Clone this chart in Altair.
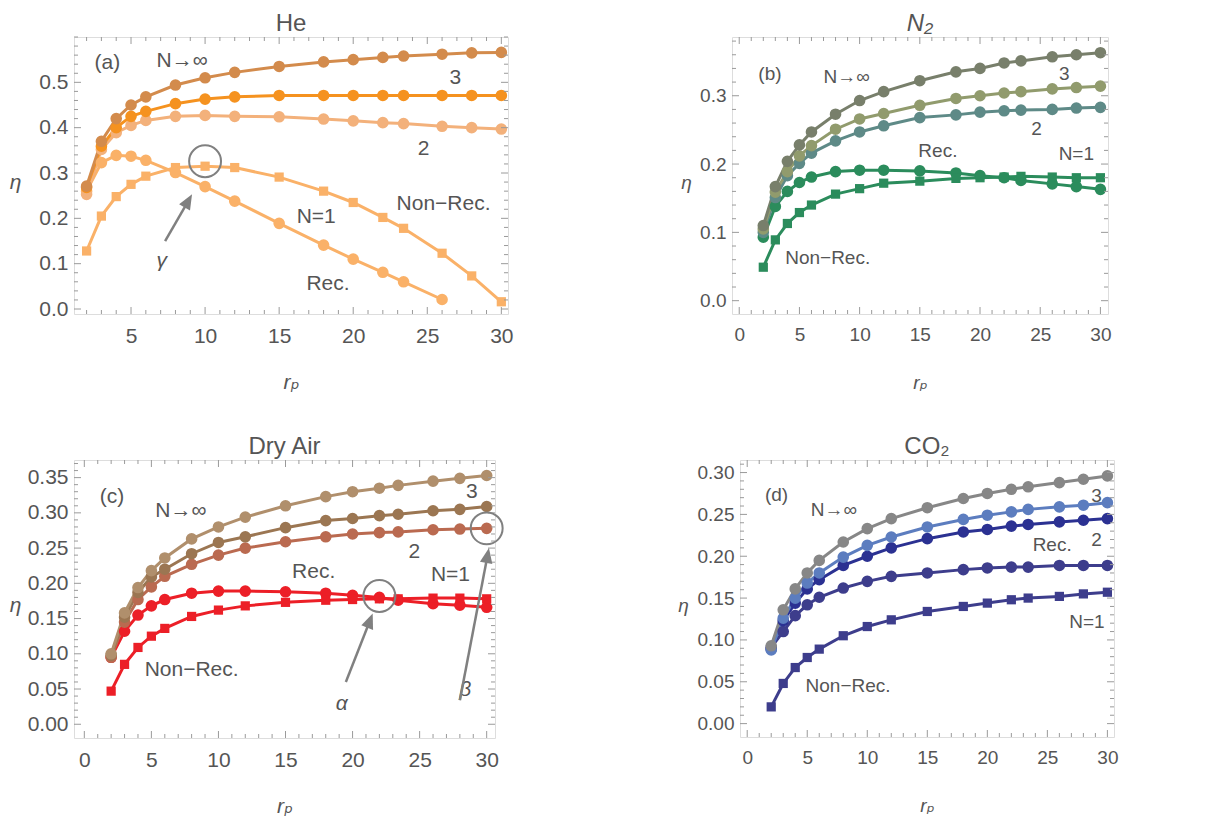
import math
import altair as alt
import pandas as pd

# ---------------- data ----------------
rp = [2, 3, 4, 5, 6, 8, 10, 12, 15, 18, 20, 22, 23.4, 26, 28, 30]
rp_he_rec = [2, 3, 4, 5, 6, 8, 10, 12, 15, 18, 20, 22, 23.4, 26]

# (a) He
he_inf = [0.271, 0.370, 0.420, 0.450, 0.468, 0.494, 0.510, 0.522, 0.535, 0.545, 0.550, 0.555, 0.558, 0.562, 0.565, 0.566]
he_n3 = [0.268, 0.359, 0.400, 0.425, 0.436, 0.453, 0.463, 0.468, 0.471, 0.471, 0.471, 0.471, 0.471, 0.471, 0.471, 0.471]
he_n2 = [0.253, 0.352, 0.389, 0.405, 0.416, 0.425, 0.427, 0.425, 0.424, 0.419, 0.415, 0.411, 0.409, 0.403, 0.400, 0.397]
he_rec = [0.260, 0.323, 0.339, 0.337, 0.328, 0.301, 0.270, 0.238, 0.189, 0.141, 0.110, 0.081, 0.060, 0.021]
he_nonrec = [0.128, 0.205, 0.248, 0.275, 0.293, 0.312, 0.315, 0.312, 0.291, 0.260, 0.235, 0.202, 0.178, 0.123, 0.073, 0.016]

# (b) N2
n2_inf = [0.110, 0.167, 0.204, 0.228, 0.247, 0.273, 0.293, 0.306, 0.322, 0.335, 0.340, 0.348, 0.351, 0.357, 0.360, 0.363]
n2_n3 = [0.105, 0.159, 0.189, 0.212, 0.227, 0.251, 0.266, 0.274, 0.286, 0.296, 0.300, 0.304, 0.306, 0.310, 0.312, 0.314]
n2_n2 = [0.100, 0.151, 0.183, 0.201, 0.216, 0.234, 0.247, 0.256, 0.268, 0.272, 0.276, 0.278, 0.279, 0.280, 0.282, 0.283]
n2_rec = [0.093, 0.138, 0.160, 0.173, 0.181, 0.189, 0.191, 0.191, 0.190, 0.187, 0.183, 0.180, 0.176, 0.171, 0.167, 0.163]
n2_nonrec = [0.049, 0.089, 0.113, 0.129, 0.140, 0.156, 0.164, 0.172, 0.175, 0.179, 0.180, 0.181, 0.182, 0.181, 0.180, 0.180]

# (c) Dry Air
air_inf = [0.100, 0.158, 0.194, 0.218, 0.236, 0.263, 0.280, 0.294, 0.310, 0.323, 0.330, 0.335, 0.339, 0.345, 0.349, 0.353]
air_n3 = [0.098, 0.152, 0.187, 0.209, 0.220, 0.242, 0.258, 0.266, 0.279, 0.289, 0.292, 0.296, 0.298, 0.303, 0.305, 0.309]
air_n2 = [0.095, 0.145, 0.177, 0.195, 0.210, 0.227, 0.240, 0.250, 0.259, 0.266, 0.270, 0.272, 0.273, 0.276, 0.277, 0.278]
air_rec = [0.095, 0.132, 0.155, 0.168, 0.177, 0.186, 0.189, 0.189, 0.188, 0.186, 0.183, 0.180, 0.176, 0.171, 0.169, 0.166]
air_nonrec = [0.047, 0.085, 0.109, 0.125, 0.136, 0.153, 0.162, 0.168, 0.173, 0.176, 0.177, 0.178, 0.178, 0.179, 0.179, 0.178]

# (d) CO2
co2_inf = [0.093, 0.136, 0.161, 0.180, 0.195, 0.217, 0.233, 0.245, 0.258, 0.269, 0.275, 0.280, 0.283, 0.288, 0.292, 0.296]
co2_n3 = [0.088, 0.126, 0.150, 0.168, 0.180, 0.199, 0.213, 0.223, 0.235, 0.244, 0.249, 0.253, 0.256, 0.259, 0.261, 0.264]
co2_n2 = [0.089, 0.123, 0.144, 0.161, 0.172, 0.189, 0.200, 0.210, 0.221, 0.229, 0.232, 0.236, 0.238, 0.241, 0.243, 0.245]
co2_rec = [0.091, 0.110, 0.129, 0.142, 0.151, 0.162, 0.170, 0.176, 0.180, 0.184, 0.186, 0.187, 0.187, 0.189, 0.189, 0.189]
co2_nonrec = [0.020, 0.048, 0.067, 0.079, 0.089, 0.105, 0.116, 0.124, 0.134, 0.140, 0.144, 0.148, 0.150, 0.152, 0.155, 0.157]

# tick labels
x_ticks_a = [5, 10, 15, 20, 25, 30]
x_ticks = [0, 5, 10, 15, 20, 25, 30]
y_ticks_a = [0.0, 0.1, 0.2, 0.3, 0.4, 0.5]
y_ticks_b = [0.0, 0.1, 0.2, 0.3]
y_ticks_c = [0.00, 0.05, 0.10, 0.15, 0.20, 0.25, 0.30, 0.35]
y_ticks_d = [0.00, 0.05, 0.10, 0.15, 0.20, 0.25, 0.30]

# annotation texts
lab_a_text = ["(a)", "N→∞", "3", "2", "Non−Rec.", "N=1", "Rec."]
lab_a_x = [3.4, 8.45, 26.9, 24.75, 26.1, 17.5, 18.3]
lab_a_y = [0.543, 0.546, 0.510, 0.353, 0.231, 0.202, 0.055]
lab_b_text = ["(b)", "N→∞", "3", "2", "Rec.", "N=1", "Non−Rec."]
lab_b_x = [2.55, 8.93, 27.0, 24.7, 16.5, 28.0, 7.35]
lab_b_y = [0.332, 0.327, 0.332, 0.251, 0.219, 0.215, 0.063]
lab_c_text = ["(c)", "N→∞", "3", "2", "Rec.", "N=1", "Non−Rec."]
lab_c_x = [2.06, 7.2, 28.9, 24.6, 17.1, 27.3, 8.0]
lab_c_y = [0.322, 0.303, 0.330, 0.245, 0.216, 0.212, 0.077]
lab_d_text = ["(d)", "N→∞", "3", "2", "Rec.", "N=1", "Non−Rec."]
lab_d_x = [2.44, 7.22, 29.1, 29.1, 25.4, 28.3, 8.4]
lab_d_y = [0.273, 0.255, 0.272, 0.219, 0.213, 0.122, 0.045]

# greek marker labels, circled points, arrows (start -> tip)
greek_a = [("γ", 7.07, 0.106)]
greek_c = [("α", 19.2, 0.029), ("β", 28.4, 0.048)]
circ_a = [(10, 0.326)]
circ_c = [(22, 0.182), (30, 0.278)]
arrows_a = [(7.3, 0.150, 9.12, 0.253)]
arrows_c = [(19.5, 0.060, 21.5, 0.157), (28.0, 0.034, 30.17, 0.250)]

# ---------------- style ----------------
FONT = "Liberation Sans, DejaVu Sans"
TXT = "#555555"
FRAME = "#9a9a9a"
ARROW = "#808080"
NAMES = ["rec", "nonrec", "n2", "n3", "inf"]


def minor(lo, hi, step, majors, nd=4):
    out = []
    i = 0
    while True:
        v = round(i * step, nd)
        if v > hi:
            break
        if v > lo and all(abs(v - m) > 1e-9 for m in majors):
            out.append(v)
        i += 1
    return out


panels = [
    dict(title="He", tstyle="normal", W=434, H=277, xdom=[1.15, 30.45], ydom=[-0.011, 0.6],
         xt=x_ticks_a, yt=y_ticks_a, yfmt=".1f", ystep=0.02, fs=21, afs=21, etax=-59,
         series=[(he_rec, rp_he_rec, "circle"), (he_nonrec, rp, "square"), (he_n2, rp, "circle"),
                 (he_n3, rp, "circle"), (he_inf, rp, "circle")],
         colors=["#FAB168", "#FAB168", "#F3B17B", "#F5921F", "#D38B4C"],
         labels=(lab_a_text, lab_a_x, lab_a_y), greek=greek_a, circ=circ_a, arrows=arrows_a),
    dict(title="N₂", tstyle="italic", W=376, H=277, xdom=[-0.6, 30.63], ydom=[-0.0195, 0.386],
         xt=x_ticks, yt=y_ticks_b, yfmt=".1f", ystep=0.02, fs=19, afs=19, etax=-46,
         series=[(n2_rec, rp, "circle"), (n2_nonrec, rp, "square"), (n2_n2, rp, "circle"),
                 (n2_n3, rp, "circle"), (n2_inf, rp, "circle")],
         colors=["#2B8C5C", "#2B8C5C", "#5E8A87", "#919B6D", "#787F6B"],
         labels=(lab_b_text, lab_b_x, lab_b_y), greek=[], circ=[], arrows=[]),
    dict(title="Dry Air", tstyle="normal", W=421, H=278, xdom=[-0.77, 30.62], ydom=[-0.0195, 0.375],
         xt=x_ticks, yt=y_ticks_c, yfmt=".2f", ystep=0.01, fs=21, afs=21, etax=-59,
         series=[(air_rec, rp, "circle"), (air_nonrec, rp, "square"), (air_n2, rp, "circle"),
                 (air_n3, rp, "circle"), (air_inf, rp, "circle")],
         colors=["#EC1F27", "#EC1F27", "#BA6A50", "#9B7652", "#B08F6C"],
         labels=(lab_c_text, lab_c_x, lab_c_y), greek=greek_c, circ=circ_c, arrows=arrows_c),
    dict(title="CO₂", tstyle="normal", W=374, H=277, xdom=[-0.6, 30.55], ydom=[-0.016, 0.315],
         xt=x_ticks, yt=y_ticks_d, yfmt=".2f", ystep=0.01, fs=19, afs=19, etax=-57,
         series=[(co2_rec, rp, "circle"), (co2_nonrec, rp, "square"), (co2_n2, rp, "circle"),
                 (co2_n3, rp, "circle"), (co2_inf, rp, "circle")],
         colors=["#3D3D8C", "#3D3D8C", "#2B3192", "#5C7DBF", "#878787"],
         labels=(lab_d_text, lab_d_x, lab_d_y), greek=[], circ=[], arrows=[]),
]


def make_panel(cfg):
    W, H = cfg["W"], cfg["H"]
    xd, yd = cfg["xdom"], cfg["ydom"]
    xs = alt.Scale(domain=xd, nice=False, zero=False)
    ys = alt.Scale(domain=yd, nice=False, zero=False)
    fs = cfg["fs"]

    rows = []
    for name, col, (vals, xv, mk) in zip(NAMES, cfg["colors"], cfg["series"]):
        for a, b in zip(xv, vals):
            rows.append({"x": a, "y": b, "s": name, "m": mk, "c": col})
    df = pd.DataFrame(rows)
    color = alt.Color("c:N", scale=None)

    xaxis = alt.Axis(values=cfg["xt"], tickCount=len(cfg["xt"]) + 2, format="d", title="rₚ", ticks=False,
                     domain=False, grid=False,
                     labelFlush=False, labelOverlap=False, labelFont=FONT, labelFontSize=fs, labelColor=TXT,
                     labelPadding=11,
                     titleFont=FONT, titleFontSize=fs, titleColor=TXT, titleFontStyle="italic",
                     titleFontWeight="normal", titleBaseline="middle", titleAlign="center",
                     titleX=W / 2, titleY=68)
    yaxis = alt.Axis(values=cfg["yt"], tickCount=len(cfg["yt"]) + 2, format=cfg["yfmt"], title="η", ticks=False,
                     domain=False, grid=False,
                     labelOverlap=False, labelFont=FONT, labelFontSize=fs, labelColor=TXT, labelPadding=6,
                     titleFont=FONT, titleFontSize=fs, titleColor=TXT, titleFontStyle="italic",
                     titleFontWeight="normal", titleAngle=0, titleX=cfg["etax"], titleY=145,
                     titleAlign="center", titleBaseline="middle")

    def X(f, ax=None):
        if ax is None:
            return alt.X(f, type="quantitative", scale=xs)
        return alt.X(f, type="quantitative", scale=xs, axis=ax)

    def Y(f, ax=None):
        if ax is None:
            return alt.Y(f, type="quantitative", scale=ys)
        return alt.Y(f, type="quantitative", scale=ys, axis=ax)

    layers = []
    base = alt.Chart(df)
    layers.append(base.mark_line(strokeWidth=3).encode(x=X("x", xaxis), y=Y("y", yaxis), color=color,
                                                      detail="s:N"))
    layers.append(base.transform_filter(alt.datum.m == "circle").mark_point(
        filled=True, opacity=1, size=135, shape="circle").encode(x=X("x"), y=Y("y"), color=color))
    layers.append(base.transform_filter(alt.datum.m == "square").mark_point(
        filled=True, opacity=1, size=85, shape="square").encode(x=X("x"), y=Y("y"), color=color))

    # frame ticks (inside, all four sides)
    xmaj = [v for v in cfg["xt"] if xd[0] < v < xd[1]]
    xmin = minor(xd[0], xd[1], 1, xmaj)
    ymaj = [v for v in cfg["yt"] if yd[0] < v < yd[1]]
    ymin = minor(yd[0], yd[1], cfg["ystep"], ymaj)
    for vals, ln in ((xmaj, 7), (xmin, 4)):
        c = alt.Chart(pd.DataFrame({"v": vals}))
        layers.append(c.mark_rule(color=FRAME, strokeWidth=1).encode(x=X("v"), y=alt.value(H), y2=alt.value(H - ln)))
        layers.append(c.mark_rule(color=FRAME, strokeWidth=1).encode(x=X("v"), y=alt.value(0), y2=alt.value(ln)))
    for vals, ln in ((ymaj, 7), (ymin, 4)):
        c = alt.Chart(pd.DataFrame({"v": vals}))
        layers.append(c.mark_rule(color=FRAME, strokeWidth=1).encode(y=Y("v"), x=alt.value(0), x2=alt.value(ln)))
        layers.append(c.mark_rule(color=FRAME, strokeWidth=1).encode(y=Y("v"), x=alt.value(W), x2=alt.value(W - ln)))

    # text labels
    t, tx, ty = cfg["labels"]
    tdf = pd.DataFrame({"t": t, "x": tx, "y": ty})
    layers.append(alt.Chart(tdf).mark_text(font=FONT, fontSize=cfg["afs"], color=TXT, baseline="middle",
                                           align="center").encode(x=X("x"), y=Y("y"), text="t:N"))
    if cfg["greek"]:
        gdf = pd.DataFrame(cfg["greek"], columns=["t", "x", "y"])
        layers.append(alt.Chart(gdf).mark_text(font=FONT, fontSize=cfg["afs"], color=TXT, fontStyle="italic",
                                               baseline="middle", align="center").encode(x=X("x"), y=Y("y"), text="t:N"))
    if cfg["circ"]:
        cdf = pd.DataFrame(cfg["circ"], columns=["x", "y"])
        layers.append(alt.Chart(cdf).mark_point(shape="circle", filled=False, size=1018, stroke=ARROW,
                                                strokeWidth=2, opacity=1).encode(x=X("x"), y=Y("y")))
    sx = W / (xd[1] - xd[0])
    sy = H / (yd[1] - yd[0])
    head = 15
    for (x0, y0, x1, y1) in cfg["arrows"]:
        dxp = (x1 - x0) * sx
        dyp = -(y1 - y0) * sy
        L = math.hypot(dxp, dyp)
        ux, uy = dxp / L, dyp / L
        bx = x1 - ux * head * 0.9 / sx
        by = y1 + uy * head * 0.9 / sy
        ang = math.degrees(math.atan2(ux, -uy)) % 360
        rdf = pd.DataFrame({"x": [x0], "y": [y0], "x2": [bx], "y2": [by]})
        layers.append(alt.Chart(rdf).mark_rule(color=ARROW, strokeWidth=2.5).encode(
            x=X("x"), y=Y("y"), x2="x2:Q", y2="y2:Q"))
        hdf = pd.DataFrame({"x": [x1], "y": [y1]})
        layers.append(alt.Chart(hdf).mark_point(shape="M0,0L-0.42,1L0.42,1Z", filled=True, size=(2 * head) ** 2,
                                                color=ARROW, opacity=1, angle=ang).encode(x=X("x"), y=Y("y")))

    return alt.layer(*layers).properties(
        width=W, height=H,
        title=alt.TitleParams(cfg["title"], font=FONT, fontSize=24, color=TXT, fontWeight="normal",
                              fontStyle=cfg["tstyle"], anchor="middle", offset=1),
    )


pa, pb, pc, pd_ = [make_panel(c) for c in panels]
top = alt.hconcat(pa, pb, spacing=166)
bot = alt.hconcat(pc, pd_, spacing=169)
chart = alt.vconcat(top, bot, spacing=41).properties(
    padding={"left": 0, "top": 3, "right": 0, "bottom": 0}
).configure_view(stroke=FRAME, strokeWidth=1.5).configure(background="white")

chart.save("out.html", embed_options={"renderer": "svg", "actions": False})
